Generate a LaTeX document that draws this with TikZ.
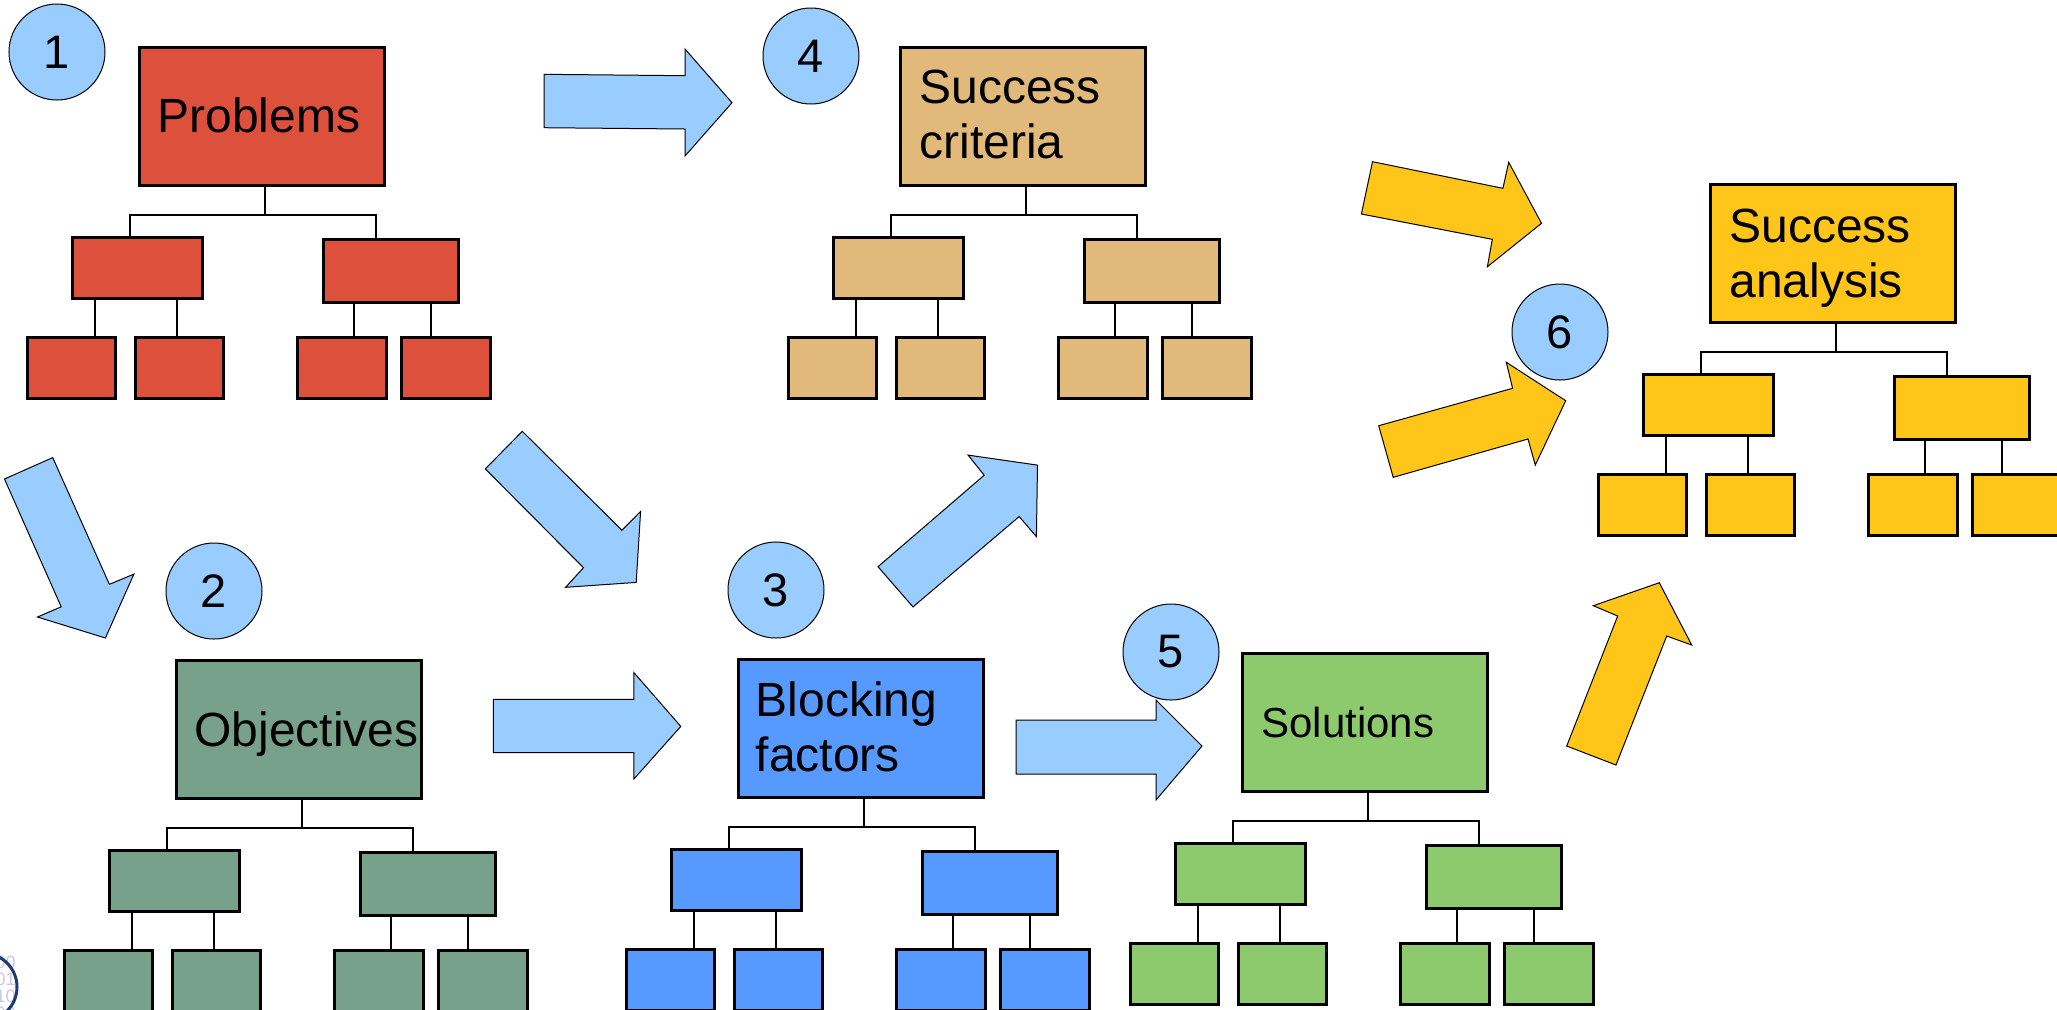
\documentclass[tikz,border=0pt]{standalone}
\usepackage{fontspec}
\setmainfont{Liberation Sans}
\usetikzlibrary{calc}

\definecolor{probred}{HTML}{DC503C}
\definecolor{crittan}{HTML}{E0B97B}
\definecolor{objgreen}{HTML}{77A18A}
\definecolor{blockblue}{HTML}{5699FF}
\definecolor{solgreen}{HTML}{8DCA6E}
\definecolor{anayellow}{HTML}{FFC519}
\definecolor{sky}{HTML}{99CCFF}
\definecolor{logonavy}{HTML}{1E3C6E}
\definecolor{logolav}{HTML}{C8C8EC}

\tikzset{
  box/.style={draw=black, line width=1.4pt, inner sep=0pt, anchor=north west},
  conn/.style={draw=black, line width=1pt},
  blockarrow/.style={draw=black, line width=0.5pt, line join=miter},
  numc/.style={circle, draw=black, line width=0.5pt, fill=sky, minimum size=48pt,
    inner sep=0pt, font=\fontsize{23.5}{27}\selectfont},
  lbl/.style={inner sep=0pt, anchor=base west, font=\fontsize{24}{27.5}\selectfont},
}

% A three-level tree: root, two children, four grandchildren.
% #1 name prefix, #2 #3 top-left corner of the root box, #4 fill colour
\newcommand\orgtree[4]{%
  \node[box, fill=#4, minimum width=122.5pt, minimum height=69pt] (#1-root) at (#2,#3) {};
  \node[box, fill=#4, minimum width=65pt, minimum height=30.5pt] (#1-c1) at ({#2-67},{#3+190}) {};
  \node[box, fill=#4, minimum width=67.5pt, minimum height=31.5pt] (#1-c2) at ({#2+184},{#3+192}) {};
  \node[box, fill=#4, minimum width=44pt, minimum height=30.5pt] (#1-g1) at ({#2-112},{#3+290}) {};
  \node[box, fill=#4, minimum width=44pt, minimum height=30.5pt] (#1-g2) at ({#2-4},{#3+290}) {};
  \node[box, fill=#4, minimum width=44.5pt, minimum height=30.5pt] (#1-g3) at ({#2+158},{#3+290}) {};
  \node[box, fill=#4, minimum width=44.5pt, minimum height=30.5pt] (#1-g4) at ({#2+262},{#3+290}) {};
  % root to children
  \coordinate (#1-j) at ($([xshift=1.75pt]#1-root.south)+(0,28)$);
  \draw[conn] ([xshift=1.75pt]#1-root.south) -- (#1-j);
  \draw[conn] ([xshift=-3.5pt]#1-c1.north) |- (#1-j) -| ([xshift=-7.25pt]#1-c2.north);
  % children to grandchildren
  \coordinate (#1-v1) at ([xshift=-21pt]#1-c1.south);
  \coordinate (#1-v2) at ([xshift=20pt]#1-c1.south);
  \coordinate (#1-v3) at ([xshift=-18.25pt]#1-c2.south);
  \coordinate (#1-v4) at ([xshift=20.25pt]#1-c2.south);
  \draw[conn] (#1-v1) -- (#1-v1 |- #1-g1.north);
  \draw[conn] (#1-v2) -- (#1-v2 |- #1-g2.north);
  \draw[conn] (#1-v3) -- (#1-v3 |- #1-g3.north);
  \draw[conn] (#1-v4) -- (#1-v4 |- #1-g4.north);
}

\begin{document}
\begin{tikzpicture}[x=0.5pt, y=-0.5pt]
\useasboundingbox (0,0) rectangle (2057,1009);
\fill[white] (0,0) rectangle (2057,1009);
\clip (0,0) rectangle (2057,1009);

% the six trees
\orgtree{prob}{138}{46}{probred}
\orgtree{crit}{899}{46}{crittan}
\orgtree{obj}{175}{659}{objgreen}
\orgtree{block}{737}{658}{blockblue}
\orgtree{sol}{1241}{652}{solgreen}
\orgtree{ana}{1709}{183}{anayellow}

% root labels
\node[lbl] (prob-text) at (157,132) {Problems};
\node[lbl] (crit-text) at (919,103) {\vtop{\hbox{Success}\hbox{criteria}}};
\node[lbl] (obj-text) at (194,746) {Objectives};
\node[lbl] (block-text) at (755.5,716.5) {\vtop{\hbox{Blocking}\hbox{factors}}};
\node[lbl, font=\fontsize{21}{25}\selectfont] (sol-text) at (1261,737) {Solutions};
\node[lbl] (ana-text) at (1729,242) {\vtop{\hbox{Success}\hbox{analysis}}};

% block arrows between the steps
\draw[blockarrow, fill=sky] (544,74.3) -- (685,75.7) -- (685,49) -- (732,102.7)
  -- (685,156) -- (685,129) -- (544,127.7) -- cycle;
\draw[blockarrow, fill=sky] (4.5,479) -- (52.7,457.6) -- (109.4,584.3) -- (133.9,574.1)
  -- (105.4,638) -- (37.5,617) -- (61.2,606.8) -- cycle;
\draw[blockarrow, fill=sky] (485.3,468.9) -- (522.3,431.3) -- (621.9,530.2) -- (640.6,511.4)
  -- (636.2,582.4) -- (565.6,587.3) -- (583.5,567.7) -- cycle;
\draw[blockarrow, fill=sky] (493.3,699.3) -- (633.9,699.3) -- (633.9,672.6) -- (680.8,726.4)
  -- (633.9,779) -- (633.9,752.7) -- (493.3,752.7) -- cycle;
\draw[blockarrow, fill=sky] (878,566.7) -- (984.2,475.2) -- (968.1,455.1) -- (1037.5,465.1)
  -- (1036.4,536.6) -- (1019.2,516.5) -- (913,606.9) -- cycle;
\draw[blockarrow, fill=sky] (1016,720) -- (1156,720) -- (1156,700) -- (1202,746)
  -- (1156,800) -- (1156,774) -- (1016,774) -- cycle;
\draw[blockarrow, fill=anayellow] (1372.5,161.7) -- (1502.9,188.3) -- (1508.7,162.3)
  -- (1541.5,223.3) -- (1487.4,266.7) -- (1492.3,239.3) -- (1361.4,214) -- cycle;
\draw[blockarrow, fill=anayellow] (1378.7,425.7) -- (1512.6,388.3) -- (1506.3,362.3)
  -- (1565.7,400.7) -- (1535.3,465) -- (1528,439) -- (1393.2,477.3) -- cycle;
\draw[blockarrow, fill=anayellow] (1566.7,746) -- (1617.7,616) -- (1593.3,605.7)
  -- (1659.3,582.7) -- (1691.7,645) -- (1666.7,636) -- (1616,765) -- cycle;

% step numbers
\node[numc] (n1) at (57,52) {1};
\node[numc] (n2) at (214,591) {2};
\node[numc] (n3) at (776,590) {3};
\node[numc] (n4) at (811,56) {4};
\node[numc] (n5) at (1171,652) {5};
\node[numc] (n6) at (1560,332) {6};

% corner logo
\node[inner sep=0pt, anchor=base east, text=logolav, font=\fontsize{9}{8.5}\selectfont]
  (logo-bits) at (16,968) {\vtop{\hbox{00}\hbox{01}\hbox{10}\hbox{00}}};
\draw[logonavy, line width=1.5pt] (-17,987) circle[radius=34];
\end{tikzpicture}
\end{document}
